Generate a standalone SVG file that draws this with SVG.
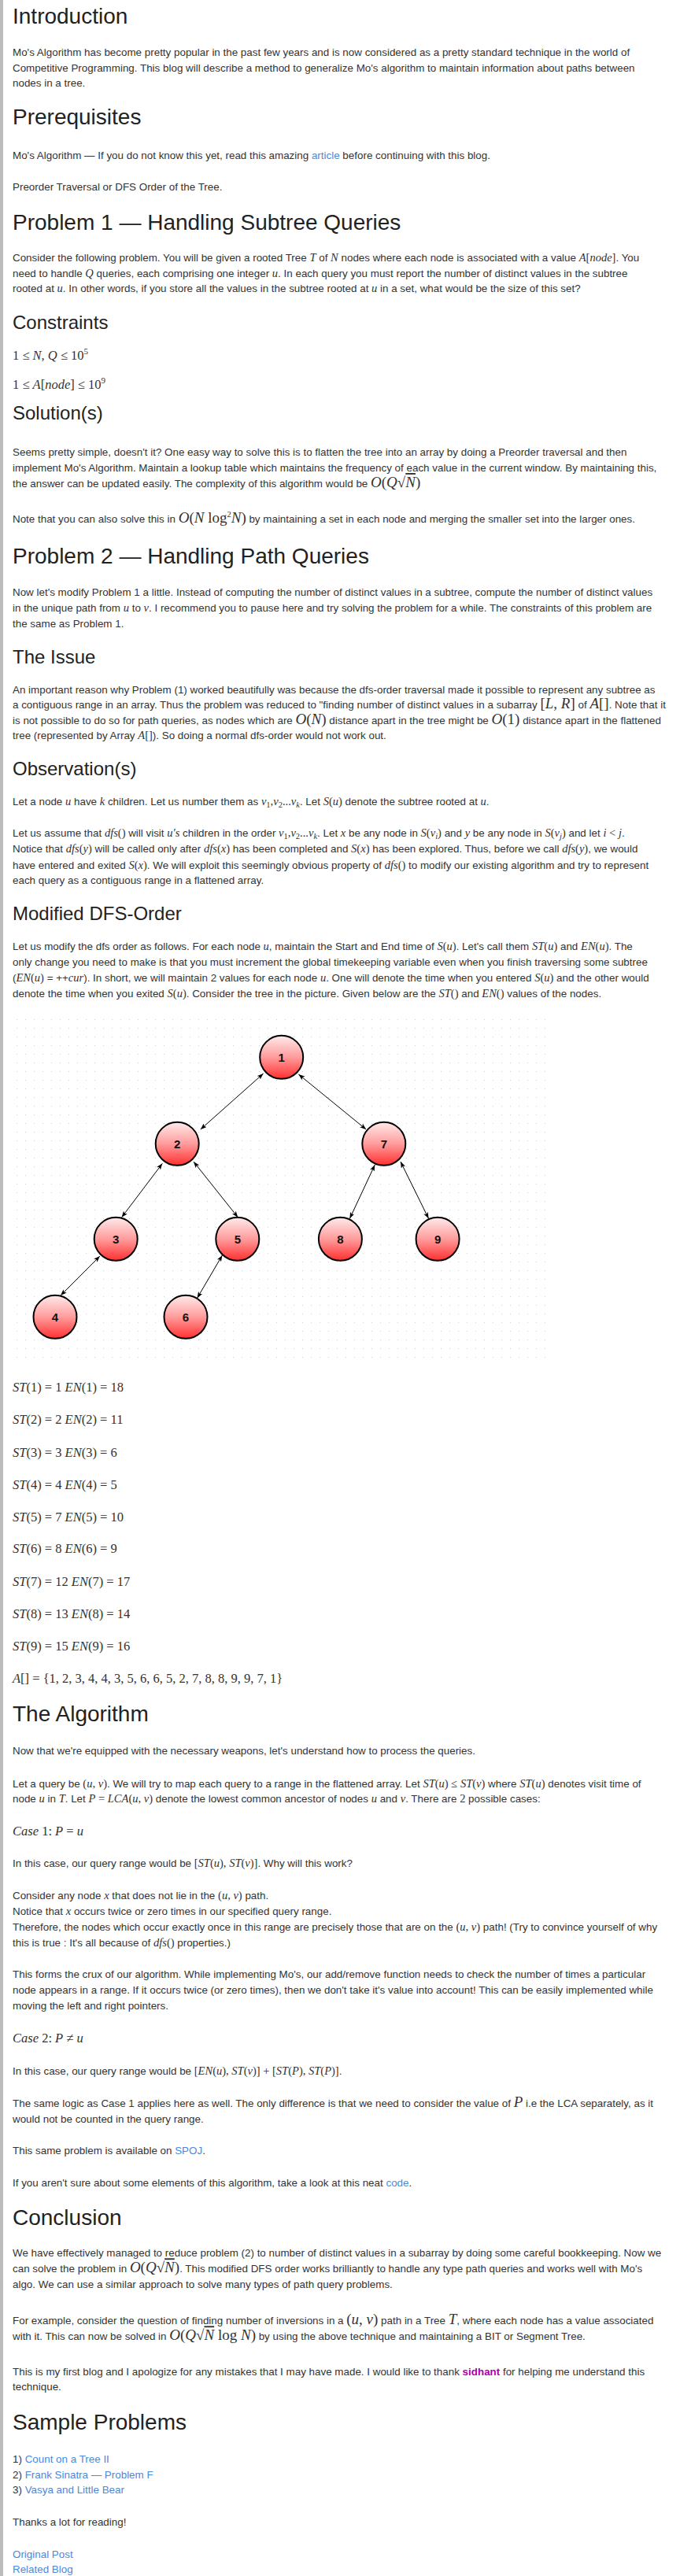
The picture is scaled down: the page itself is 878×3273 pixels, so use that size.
<svg xmlns="http://www.w3.org/2000/svg" width="878" height="3273" viewBox="0 0 878 3273">
<style>
text{font-family:"Liberation Sans",Arial,sans-serif;fill:#333;font-size:13.4px}
.h1{font-size:28px;fill:#222}
.h2{font-size:24px;fill:#222}
.mi{font-family:"Liberation Serif","Times New Roman",serif;font-style:italic;font-size:14.5px}
.mn{font-family:"Liberation Serif","Times New Roman",serif;font-style:normal;font-size:14.5px}
.big{font-size:19px}
.ml{font-family:"Liberation Serif","Times New Roman",serif;font-size:16.5px}
.sb{font-family:"Liberation Serif","Times New Roman",serif;font-size:10.5px}
.a{fill:#4a89dc}
.s{fill:#a0a;font-weight:bold}
.node ellipse{fill:url(#ng);stroke:#000;stroke-width:2}
.node text{font-weight:bold;font-size:15px;fill:#111;text-anchor:middle}
.edge{stroke:#000;stroke-width:1;fill:none;marker-start:url(#ah);marker-end:url(#ah)}
</style>
<defs>
<linearGradient id="ng" x1="0" y1="0" x2="0" y2="1">
<stop offset="0" stop-color="#ffeaea"/>
<stop offset="0.5" stop-color="#ff9c9c"/>
<stop offset="1" stop-color="#ff2f2f"/>
</linearGradient>
<marker id="ah" viewBox="0 0 8 6" refX="8" refY="3" markerWidth="8" markerHeight="6" markerUnits="userSpaceOnUse" orient="auto-start-reverse">
<path d="M0,0 L8,3 L0,6 L2,3 z" fill="#000"/>
</marker>
<pattern id="dots" x="21" y="1295" width="11" height="11" patternUnits="userSpaceOnUse">
<rect x="0" y="0" width="1" height="1" fill="#cfcfcf"/>
</pattern>
</defs>
<rect x="0" y="0" width="878" height="3273" fill="#fff"/>
<rect x="0" y="0" width="4" height="3273" fill="#bdbdbd"/>

<text class="h1" x="16" y="30">Introduction</text>
<text x="16" y="71">Mo's Algorithm has become pretty popular in the past few years and is now considered as a pretty standard technique in the world of</text>
<text x="16" y="91">Competitive Programming. This blog will describe a method to generalize Mo's algorithm to maintain information about paths between</text>
<text x="16" y="110">nodes in a tree.</text>

<text class="h1" x="16" y="157.5">Prerequisites</text>
<text x="16" y="201.7">Mo's Algorithm — If you do not know this yet, read this amazing <tspan class="a">article</tspan> before continuing with this blog.</text>
<text x="16" y="241.7">Preorder Traversal or DFS Order of the Tree.</text>

<text class="h1" x="16" y="291.7">Problem 1 — Handling Subtree Queries</text>
<text x="16" y="331.7">Consider the following problem. You will be given a rooted Tree <tspan class="mi">T</tspan> of <tspan class="mi">N</tspan> nodes where each node is associated with a value <tspan class="mi">A</tspan><tspan class="mn">[</tspan><tspan class="mi">node</tspan><tspan class="mn">]</tspan>. You</text>
<text x="16" y="351.7">need to handle <tspan class="mi">Q</tspan> queries, each comprising one integer <tspan class="mi">u</tspan>. In each query you must report the number of distinct values in the subtree</text>
<text x="16" y="371.3">rooted at <tspan class="mi">u</tspan>. In other words, if you store all the values in the subtree rooted at <tspan class="mi">u</tspan> in a set, what would be the size of this set?</text>

<text class="h2" x="16" y="418.3">Constraints</text>
<text x="16" y="456.7" class="ml">1 ≤ <tspan font-style="italic">N</tspan>, <tspan font-style="italic">Q</tspan> ≤ 10<tspan font-size="11" dy="-7">5</tspan></text>
<text x="16" y="494" class="ml">1 ≤ <tspan font-style="italic">A</tspan>[<tspan font-style="italic">node</tspan>] ≤ 10<tspan font-size="11" dy="-7">9</tspan></text>

<text class="h2" x="16" y="533.3">Solution(s)</text>
<text x="16" y="579.3">Seems pretty simple, doesn't it? One easy way to solve this is to flatten the tree into an array by doing a Preorder traversal and then</text>
<text x="16" y="599.3">implement Mo's Algorithm. Maintain a lookup table which maintains the frequency of each value in the current window. By maintaining this,</text>
<text x="16" y="619">the answer can be updated easily. The complexity of this algorithm would be <tspan class="mi big">O</tspan><tspan class="mn big">(</tspan><tspan class="mi big">Q</tspan><tspan class="mn big">√</tspan><tspan class="mi big" text-decoration="overline">N</tspan><tspan class="mn big">)</tspan></text>
<text x="16" y="664">Note that you can also solve this in <tspan class="mi big">O</tspan><tspan class="mn big">(</tspan><tspan class="mi big">N</tspan><tspan class="mn big"> log</tspan><tspan class="sb" dy="-7">2</tspan><tspan class="mi big" dy="7">N</tspan><tspan class="mn big">)</tspan> by maintaining a set in each node and merging the smaller set into the larger ones.</text>

<text class="h1" x="16" y="716">Problem 2 — Handling Path Queries</text>
<text x="16" y="757.3">Now let's modify Problem 1 a little. Instead of computing the number of distinct values in a subtree, compute the number of distinct values</text>
<text x="16" y="777.3">in the unique path from <tspan class="mi">u</tspan> to <tspan class="mi">v</tspan>. I recommend you to pause here and try solving the problem for a while. The constraints of this problem are</text>
<text x="16" y="796.7">the same as Problem 1.</text>

<text class="h2" x="16" y="843.3">The Issue</text>
<text x="16" y="880.7">An important reason why Problem (1) worked beautifully was because the dfs-order traversal made it possible to represent any subtree as</text>
<text x="16" y="900">a contiguous range in an array. Thus the problem was reduced to "finding number of distinct values in a subarray <tspan class="mn big">[</tspan><tspan class="mi big">L</tspan><tspan class="mn big">, </tspan><tspan class="mi big">R</tspan><tspan class="mn big">]</tspan> of <tspan class="mi big">A</tspan><tspan class="mn big">[]</tspan>. Note that it</text>
<text x="16" y="920">is not possible to do so for path queries, as nodes which are <tspan class="mi big">O</tspan><tspan class="mn big">(</tspan><tspan class="mi big">N</tspan><tspan class="mn big">)</tspan> distance apart in the tree might be <tspan class="mi big">O</tspan><tspan class="mn big">(1)</tspan> distance apart in the flattened</text>
<text x="16" y="939.3">tree (represented by Array <tspan class="mi">A</tspan><tspan class="mn">[]</tspan>). So doing a normal dfs-order would not work out.</text>

<text class="h2" x="16" y="985">Observation(s)</text>
<text x="16" y="1023.3">Let a node <tspan class="mi">u</tspan> have <tspan class="mi">k</tspan> children. Let us number them as <tspan class="mi">v</tspan><tspan class="sb" dy="3">1</tspan><tspan class="mn" dy="-3">,</tspan><tspan class="mi">v</tspan><tspan class="sb" dy="3">2</tspan><tspan class="mn" dy="-3">...</tspan><tspan class="mi">v</tspan><tspan class="sb" font-style="italic" dy="3">k</tspan><tspan dy="-3">. Let </tspan><tspan class="mi">S</tspan><tspan class="mn">(</tspan><tspan class="mi">u</tspan><tspan class="mn">)</tspan> denote the subtree rooted at <tspan class="mi">u</tspan>.</text>
<text x="16" y="1063.3">Let us assume that <tspan class="mi">dfs</tspan><tspan class="mn">()</tspan> will visit <tspan class="mi">u's</tspan> children in the order <tspan class="mi">v</tspan><tspan class="sb" dy="3">1</tspan><tspan class="mn" dy="-3">,</tspan><tspan class="mi">v</tspan><tspan class="sb" dy="3">2</tspan><tspan class="mn" dy="-3">...</tspan><tspan class="mi">v</tspan><tspan class="sb" font-style="italic" dy="3">k</tspan><tspan dy="-3">. Let </tspan><tspan class="mi">x</tspan> be any node in <tspan class="mi">S</tspan><tspan class="mn">(</tspan><tspan class="mi">v</tspan><tspan class="sb" font-style="italic" dy="3">i</tspan><tspan class="mn" dy="-3">)</tspan> and <tspan class="mi">y</tspan> be any node in <tspan class="mi">S</tspan><tspan class="mn">(</tspan><tspan class="mi">v</tspan><tspan class="sb" font-style="italic" dy="3">j</tspan><tspan class="mn" dy="-3">)</tspan> and let <tspan class="mi">i</tspan><tspan class="mn"> &lt; </tspan><tspan class="mi">j</tspan>.</text>
<text x="16" y="1083.3">Notice that <tspan class="mi">dfs</tspan><tspan class="mn">(</tspan><tspan class="mi">y</tspan><tspan class="mn">)</tspan> will be called only after <tspan class="mi">dfs</tspan><tspan class="mn">(</tspan><tspan class="mi">x</tspan><tspan class="mn">)</tspan> has been completed and <tspan class="mi">S</tspan><tspan class="mn">(</tspan><tspan class="mi">x</tspan><tspan class="mn">)</tspan> has been explored. Thus, before we call <tspan class="mi">dfs</tspan><tspan class="mn">(</tspan><tspan class="mi">y</tspan><tspan class="mn">)</tspan>, we would</text>
<text x="16" y="1103.5">have entered and exited <tspan class="mi">S</tspan><tspan class="mn">(</tspan><tspan class="mi">x</tspan><tspan class="mn">)</tspan>. We will exploit this seemingly obvious property of <tspan class="mi">dfs</tspan><tspan class="mn">()</tspan> to modify our existing algorithm and try to represent</text>
<text x="16" y="1123.3">each query as a contiguous range in a flattened array.</text>

<text class="h2" x="16" y="1169.3">Modified DFS-Order</text>
<text x="16" y="1207.3">Let us modify the dfs order as follows. For each node <tspan class="mi">u</tspan>, maintain the Start and End time of <tspan class="mi">S</tspan><tspan class="mn">(</tspan><tspan class="mi">u</tspan><tspan class="mn">)</tspan>. Let's call them <tspan class="mi">ST</tspan><tspan class="mn">(</tspan><tspan class="mi">u</tspan><tspan class="mn">)</tspan> and <tspan class="mi">EN</tspan><tspan class="mn">(</tspan><tspan class="mi">u</tspan><tspan class="mn">)</tspan>. The</text>
<text x="16" y="1227">only change you need to make is that you must increment the global timekeeping variable even when you finish traversing some subtree</text>
<text x="16" y="1246.7">(<tspan class="mi">EN</tspan><tspan class="mn">(</tspan><tspan class="mi">u</tspan><tspan class="mn">)</tspan> = ++<tspan class="mi">cur</tspan>). In short, we will maintain 2 values for each node <tspan class="mi">u</tspan>. One will denote the time when you entered <tspan class="mi">S</tspan><tspan class="mn">(</tspan><tspan class="mi">u</tspan><tspan class="mn">)</tspan> and the other would</text>
<text x="16" y="1266.7">denote the time when you exited <tspan class="mi">S</tspan><tspan class="mn">(</tspan><tspan class="mi">u</tspan><tspan class="mn">)</tspan>. Consider the tree in the picture. Given below are the <tspan class="mi">ST</tspan><tspan class="mn">()</tspan> and <tspan class="mi">EN</tspan><tspan class="mn">()</tspan> values of the nodes.</text>

<rect x="21" y="1295" width="676" height="430" fill="url(#dots)"/>
<g id="connectors">
<line class="edge" x1="334.6" y1="1364" x2="254.8" y2="1435"/>
<line class="edge" x1="379.4" y1="1365" x2="465.2" y2="1435"/>
<line class="edge" x1="206.3" y1="1478.3" x2="154.6" y2="1546.7"/>
<line class="edge" x1="246" y1="1476" x2="302.3" y2="1546.7"/>
<line class="edge" x1="476.3" y1="1480" x2="444.4" y2="1548.3"/>
<line class="edge" x1="509" y1="1476" x2="544.6" y2="1548.3"/>
<line class="edge" x1="126.9" y1="1596" x2="77" y2="1646"/>
<line class="edge" x1="282.4" y1="1595" x2="250.6" y2="1649.3"/>
</g>
<g id="node1" class="node"><ellipse cx="357.7" cy="1343.3" rx="27.5" ry="27.5"/><text x="357.7" y="1348.5">1</text></g>
<g id="node2" class="node"><ellipse cx="225.2" cy="1453.3" rx="27.5" ry="27.5"/><text x="225.2" y="1458.5">2</text></g>
<g id="node7" class="node"><ellipse cx="487.8" cy="1453.3" rx="27.5" ry="27.5"/><text x="487.8" y="1458.5">7</text></g>
<g id="node3" class="node"><ellipse cx="147.2" cy="1574.3" rx="27.5" ry="27.5"/><text x="147.2" y="1579.5">3</text></g>
<g id="node5" class="node"><ellipse cx="301.8" cy="1574.3" rx="27.5" ry="27.5"/><text x="301.8" y="1579.5">5</text></g>
<g id="node8" class="node"><ellipse cx="432.4" cy="1574.3" rx="27.5" ry="27.5"/><text x="432.4" y="1579.5">8</text></g>
<g id="node9" class="node"><ellipse cx="556.1" cy="1574.3" rx="27.5" ry="27.5"/><text x="556.1" y="1579.5">9</text></g>
<g id="node4" class="node"><ellipse cx="70" cy="1673.3" rx="27.5" ry="27.5"/><text x="70" y="1678.5">4</text></g>
<g id="node6" class="node"><ellipse cx="236" cy="1673.3" rx="27.5" ry="27.5"/><text x="236" y="1678.5">6</text></g>

<text class="ml" x="16" y="1768.3"><tspan font-style="italic">ST</tspan>(1) = 1 <tspan font-style="italic">EN</tspan>(1) = 18</text>
<text class="ml" x="16" y="1809.3"><tspan font-style="italic">ST</tspan>(2) = 2 <tspan font-style="italic">EN</tspan>(2) = 11</text>
<text class="ml" x="16" y="1850.7"><tspan font-style="italic">ST</tspan>(3) = 3 <tspan font-style="italic">EN</tspan>(3) = 6</text>
<text class="ml" x="16" y="1891.7"><tspan font-style="italic">ST</tspan>(4) = 4 <tspan font-style="italic">EN</tspan>(4) = 5</text>
<text class="ml" x="16" y="1932.7"><tspan font-style="italic">ST</tspan>(5) = 7 <tspan font-style="italic">EN</tspan>(5) = 10</text>
<text class="ml" x="16" y="1973.3"><tspan font-style="italic">ST</tspan>(6) = 8 <tspan font-style="italic">EN</tspan>(6) = 9</text>
<text class="ml" x="16" y="2015"><tspan font-style="italic">ST</tspan>(7) = 12 <tspan font-style="italic">EN</tspan>(7) = 17</text>
<text class="ml" x="16" y="2056"><tspan font-style="italic">ST</tspan>(8) = 13 <tspan font-style="italic">EN</tspan>(8) = 14</text>
<text class="ml" x="16" y="2097.3"><tspan font-style="italic">ST</tspan>(9) = 15 <tspan font-style="italic">EN</tspan>(9) = 16</text>
<text class="ml" x="16" y="2138.3"><tspan font-style="italic">A</tspan>[] = {1, 2, 3, 4, 4, 3, 5, 6, 6, 5, 2, 7, 8, 8, 9, 9, 7, 1}</text>

<text class="h1" x="16" y="2187.3">The Algorithm</text>
<text x="16" y="2229.3">Now that we're equipped with the necessary weapons, let's understand how to process the queries.</text>
<text x="16" y="2270.7">Let a query be <tspan class="mn">(</tspan><tspan class="mi">u</tspan><tspan class="mn">, </tspan><tspan class="mi">v</tspan><tspan class="mn">)</tspan>. We will try to map each query to a range in the flattened array. Let <tspan class="mi">ST</tspan><tspan class="mn">(</tspan><tspan class="mi">u</tspan><tspan class="mn">) ≤ </tspan><tspan class="mi">ST</tspan><tspan class="mn">(</tspan><tspan class="mi">v</tspan><tspan class="mn">)</tspan> where <tspan class="mi">ST</tspan><tspan class="mn">(</tspan><tspan class="mi">u</tspan><tspan class="mn">)</tspan> denotes visit time of</text>
<text x="16" y="2290.3">node <tspan class="mi">u</tspan> in <tspan class="mi">T</tspan>. Let <tspan class="mi">P</tspan><tspan class="mn"> = </tspan><tspan class="mi">LCA</tspan><tspan class="mn">(</tspan><tspan class="mi">u</tspan><tspan class="mn">, </tspan><tspan class="mi">v</tspan><tspan class="mn">)</tspan> denote the lowest common ancestor of nodes <tspan class="mi">u</tspan> and <tspan class="mi">v</tspan>. There are <tspan class="mn">2</tspan> possible cases:</text>
<text class="ml" x="16" y="2331.7"><tspan font-style="italic">Case</tspan> 1: <tspan font-style="italic">P</tspan> = <tspan font-style="italic">u</tspan></text>
<text x="16" y="2371.7">In this case, our query range would be <tspan class="mn">[</tspan><tspan class="mi">ST</tspan><tspan class="mn">(</tspan><tspan class="mi">u</tspan><tspan class="mn">), </tspan><tspan class="mi">ST</tspan><tspan class="mn">(</tspan><tspan class="mi">v</tspan><tspan class="mn">)]</tspan>. Why will this work?</text>
<text x="16" y="2412.7">Consider any node <tspan class="mi">x</tspan> that does not lie in the <tspan class="mn">(</tspan><tspan class="mi">u</tspan><tspan class="mn">, </tspan><tspan class="mi">v</tspan><tspan class="mn">)</tspan> path.</text>
<text x="16" y="2432.7">Notice that <tspan class="mi">x</tspan> occurs twice or zero times in our specified query range.</text>
<text x="16" y="2453">Therefore, the nodes which occur exactly once in this range are precisely those that are on the <tspan class="mn">(</tspan><tspan class="mi">u</tspan><tspan class="mn">, </tspan><tspan class="mi">v</tspan><tspan class="mn">)</tspan> path! (Try to convince yourself of why</text>
<text x="16" y="2473">this is true : It's all because of <tspan class="mi">dfs</tspan><tspan class="mn">()</tspan> properties.)</text>
<text x="16" y="2513">This forms the crux of our algorithm. While implementing Mo's, our add/remove function needs to check the number of times a particular</text>
<text x="16" y="2533">node appears in a range. If it occurs twice (or zero times), then we don't take it's value into account! This can be easily implemented while</text>
<text x="16" y="2553.3">moving the left and right pointers.</text>
<text class="ml" x="16" y="2595"><tspan font-style="italic">Case</tspan> 2: <tspan font-style="italic">P</tspan> ≠ <tspan font-style="italic">u</tspan></text>
<text x="16" y="2636">In this case, our query range would be <tspan class="mn">[</tspan><tspan class="mi">EN</tspan><tspan class="mn">(</tspan><tspan class="mi">u</tspan><tspan class="mn">), </tspan><tspan class="mi">ST</tspan><tspan class="mn">(</tspan><tspan class="mi">v</tspan><tspan class="mn">)] + [</tspan><tspan class="mi">ST</tspan><tspan class="mn">(</tspan><tspan class="mi">P</tspan><tspan class="mn">), </tspan><tspan class="mi">ST</tspan><tspan class="mn">(</tspan><tspan class="mi">P</tspan><tspan class="mn">)]</tspan>.</text>
<text x="16" y="2676.7">The same logic as Case 1 applies here as well. The only difference is that we need to consider the value of <tspan class="mi big">P</tspan> i.e the LCA separately, as it</text>
<text x="16" y="2696.7">would not be counted in the query range.</text>
<text x="16" y="2736.7">This same problem is available on <tspan class="a">SPOJ</tspan>.</text>
<text x="16" y="2777.7">If you aren't sure about some elements of this algorithm, take a look at this neat <tspan class="a">code</tspan>.</text>

<text class="h1" x="16" y="2826.7">Conclusion</text>
<text x="16" y="2867.3">We have effectively managed to reduce problem (2) to number of distinct values in a subarray by doing some careful bookkeeping. Now we</text>
<text x="16" y="2887.3">can solve the problem in <tspan class="mi big">O</tspan><tspan class="mn big">(</tspan><tspan class="mi big">Q</tspan><tspan class="mn big">√</tspan><tspan class="mi big" text-decoration="overline">N</tspan><tspan class="mn big">)</tspan>. This modified DFS order works brilliantly to handle any type path queries and works well with Mo's</text>
<text x="16" y="2906.7">algo. We can use a similar approach to solve many types of path query problems.</text>
<text x="16" y="2953.3">For example, consider the question of finding number of inversions in a <tspan class="mn big">(</tspan><tspan class="mi big">u</tspan><tspan class="mn big">, </tspan><tspan class="mi big">v</tspan><tspan class="mn big">)</tspan> path in a Tree <tspan class="mi big">T</tspan>, where each node has a value associated</text>
<text x="16" y="2973.3">with it. This can now be solved in <tspan class="mi big">O</tspan><tspan class="mn big">(</tspan><tspan class="mi big">Q</tspan><tspan class="mn big">√</tspan><tspan class="mi big" text-decoration="overline">N</tspan><tspan class="mn big"> log </tspan><tspan class="mi big">N</tspan><tspan class="mn big">)</tspan> by using the above technique and maintaining a BIT or Segment Tree.</text>
<text x="16" y="3018.3">This is my first blog and I apologize for any mistakes that I may have made. I would like to thank <tspan class="s">sidhant</tspan> for helping me understand this</text>
<text x="16" y="3037">technique.</text>

<text class="h1" x="16" y="3086.7">Sample Problems</text>
<text x="16" y="3129.3">1) <tspan class="a">Count on a Tree II</tspan></text>
<text x="16" y="3149">2) <tspan class="a">Frank Sinatra — Problem F</tspan></text>
<text x="16" y="3168.3">3) <tspan class="a">Vasya and Little Bear</tspan></text>
<text x="16" y="3209">Thanks a lot for reading!</text>
<text x="16" y="3250" class="a">Original Post</text>
<text x="16" y="3269.3" class="a">Related Blog</text>
</svg>
